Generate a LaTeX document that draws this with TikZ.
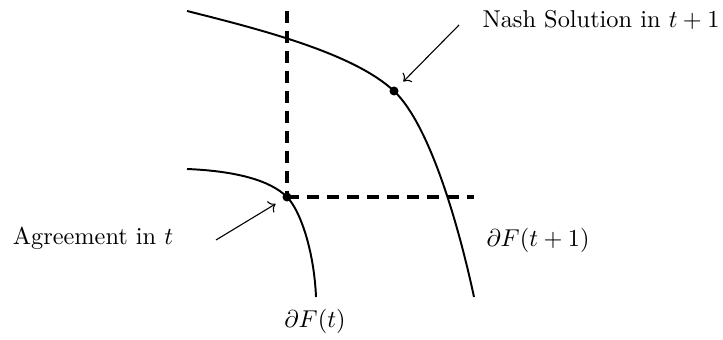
\documentclass[tikz,border=0pt]{standalone}
\usetikzlibrary{arrows.meta, positioning}

\begin{document}
\begin{tikzpicture}[
    x=0.1443mm, y=-0.1443mm,
    frontier/.style={line width=0.8pt},
    guide/.style={line width=1.35pt, dash pattern=on 5pt off 3.2pt},
    spot/.style={circle, fill=black, inner sep=0pt, minimum size=1.3mm},
    pointer/.style={->, line width=0.45pt, shorten >=1.2mm},
    lab/.style={inner sep=0pt}
]
\useasboundingbox (0,0) rectangle (723,340);

% points on the two frontiers
\node[spot] (agree) at (287,197) {};
\node[spot] (nash) at (394,91) {};

% frontiers
\draw[frontier] (187,11) .. controls (267,31) and (354,54) .. (nash.center)
    .. controls (430,125) and (459,227) .. (474,297);
\draw[frontier] (187,169) .. controls (235,171) and (270,180) .. (agree.center)
    .. controls (300,210) and (314,250) .. (316,297);

% dashed guides through the agreement
\coordinate (top) at (287,11);
\coordinate (right) at (474,197);
\draw[guide] (top) -- (agree.center);
\draw[guide] (agree.center) -- (right);

% labels
\node[lab] (agreelab) at (93,238) {Agreement in $t$};
\node[lab] (nashlab) at (601,20) {Nash Solution in $t+1$};
\node[lab] (outer) at (538,240) {$\partial F(t+1)$};
\node[lab] (inner) at (315,321) {$\partial F(t)$};

% arrows
\coordinate (agreefrom) at (216,240);
\coordinate (nashfrom) at (459,25);
\draw[pointer] (agreefrom) -- (agree);
\draw[pointer] (nashfrom) -- (nash);

\end{tikzpicture}
\end{document}
